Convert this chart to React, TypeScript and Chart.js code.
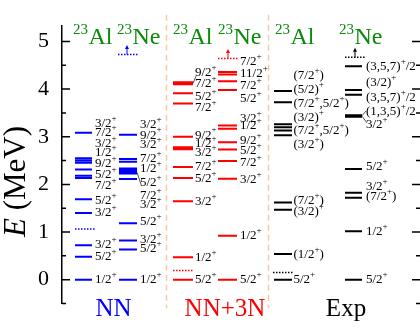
import React, { useEffect, useRef } from "react";
import { Chart, registerables } from "chart.js";
Chart.register(...registerables);

// ---------- data (MeV) ----------
// NN, 23Al
const nnAlLevels = [3.084, 2.551, 2.499, 2.455, 2.311, 2.18, 2.132, 1.687, 1.401, 0.723, 0.483, 0];
const nnAlSpins = ["3/2+", "7/2+", "3/2+", "1/2+", "9/2+", "5/2+", "7/2+", "5/2+", "3/2+", "3/2+", "5/2+", "1/2+"];
const nnAlLabelE = [3.283, 3.084, 2.864, 2.665, 2.445, 2.206, 1.966, 1.667, 1.407, 0.729, 0.489, 0];
const nnAlThreshold = 1.062;
// NN, 23Ne
const nnNeLevels = [3.044, 2.535, 2.475, 2.335, 2.289, 2.259, 2.23, 2.112, 1.182, 0.822, 0.635, 0];
const nnNeSpins = ["3/2+", "9/2+", "3/2+", "7/2+", "1/2+", "5/2+", "7/2+", "3/2+", "5/2+", "3/2+", "5/2+", "1/2+"];
const nnNeLabelE = [3.263, 3.034, 2.834, 2.535, 2.325, 2.046, 1.766, 1.567, 1.228, 0.848, 0.649, 0];
const nnNeThreshold = 4.727;
// NN+3N, 23Al
const n3AlLevels = [4.142, 4.102, 3.912, 3.697, 2.998, 2.78, 2.739, 2.365, 2.132, 1.647, 0.469, 0];
const n3AlSpins = ["9/2+", "7/2+", "5/2+", "7/2+", "9/2+", "1/2+", "3/2+", "7/2+", "5/2+", "3/2+", "1/2+", "5/2+"];
const n3AlLabelE = [4.341, 4.122, 3.852, 3.613, 3.034, 2.864, 2.665, 2.365, 2.116, 1.637, 0.469, 0];
const n3AlThreshold = 0.19;
// NN+3N, 23Ne
const n3NeLevels = [4.361, 4.307, 4.162, 3.982, 3.234, 3.17, 2.884, 2.731, 2.491, 2.12, 0.922, 0];
const n3NeSpins = ["7/2+", "11/2+", "7/2+", "5/2+", "3/2+", "1/2+", "9/2+", "5/2+", "7/2+", "3/2+", "1/2+", "5/2+"];
const n3NeLabelE = [4.581, 4.321, 4.082, 3.802, 3.383, 3.224, 2.924, 2.705, 2.455, 2.096, 0.928, 0];
const n3NeThreshold = 4.641;
// Exp, 23Al
const exAlLevels = [3.962, 3.723, 3.263, 3.198, 3.13, 3.03, 1.621, 1.467, 0.539, 0];
const exAlSpins = ["(7/2+)", "(5/2)+", "(7/2+,5/2+)", "(3/2)+", "(7/2+,5/2+)", "(3/2+)", "(7/2+)", "(3/2)+", "(1/2+)", "5/2+"];
const exAlLabelE = [4.282, 3.982, 3.703, 3.403, 3.124, 2.844, 1.667, 1.427, 0.529, 0];
const exAlThreshold = 0.15;
// Exp, 23Ne
const exNeLevels = [4.481, 3.982, 3.882, 3.453, 3.419, 2.325, 1.826, 1.717, 1.018, 0];
const exNeSpins = ["(3,5,7)+/2", "(3/2)+", "(3,5,7)+/2", "(1,3,5)+/2", "3/2+", "5/2+", "3/2+", "(7/2+)", "1/2+", "5/2+"];
const exNeLabelE = [4.481, 4.142, 3.822, 3.523, 3.263, 2.365, 1.946, 1.747, 1.008, 0];
const exNeThreshold = 4.667;

const yTicks = [0, 1, 2, 3, 4, 5];
const groupNames = ["NN", "NN+3N", "Exp"];
const nuclei = ["Al", "Ne"];

// ---------- layout / style ----------
const FONT = '"Liberation Serif", "Times New Roman", serif';
const BLUE = "#0000ff";
const RED = "#ff0000";
const BLACK = "#000000";
const GREEN = "#0b8a0b";

type Col = {
  levels: number[]; spins: string[]; labelE: number[]; threshold: number;
  x0: number; x1: number; lx: number; d0: number; d1: number; color: string; arrow?: number;
};

const columns: Col[] = [
  { levels: nnAlLevels, spins: nnAlSpins, labelE: nnAlLabelE, threshold: nnAlThreshold, x0: 13, x1: 30, lx: 33, d0: 13, d1: 33, color: BLUE },
  { levels: nnNeLevels, spins: nnNeSpins, labelE: nnNeLabelE, threshold: nnNeThreshold, x0: 57, x1: 75, lx: 78, d0: 56, d1: 76, color: BLUE, arrow: 65 },
  { levels: n3AlLevels, spins: n3AlSpins, labelE: n3AlLabelE, threshold: n3AlThreshold, x0: 111, x1: 131, lx: 133, d0: 111, d1: 131, color: RED },
  { levels: n3NeLevels, spins: n3NeSpins, labelE: n3NeLabelE, threshold: n3NeThreshold, x0: 156, x1: 175, lx: 178, d0: 156, d1: 176, color: RED, arrow: 166 },
  { levels: exAlLevels, spins: exAlSpins, labelE: exAlLabelE, threshold: exAlThreshold, x0: 212, x1: 230, lx: 231.5, d0: 211, d1: 231, color: BLACK },
  { levels: exNeLevels, spins: exNeSpins, labelE: exNeLabelE, threshold: exNeThreshold, x0: 283, x1: 300, lx: 304, d0: 283, d1: 303, color: BLACK, arrow: 293 },
];

const titleX = [[11, 55], [111, 156], [213, 277]];
const titleColors = [GREEN, GREEN, GREEN];
const groupCenters = [51.5, 163, 284];
const groupColors = [BLUE, RED, BLACK];
const separators = [104, 206];
const connectors: [number, number, number, number][] = [
  [75, 2.255, 79, 2.0],
  [131, 4.12, 134, 4.27],
  [300, 3.44, 304, 3.54],
  [300, 3.43, 305, 3.29],
];

function segs(levels: number[], x0: number, x1: number) {
  const d: any[] = [];
  levels.forEach((e) => {
    d.push({ x: x0, y: e });
    d.push({ x: x1, y: e });
    d.push({ x: x1, y: null });
  });
  return d;
}

function drawSpin(ctx: CanvasRenderingContext2D, text: string, x: number, y: number) {
  let cx = x;
  const parts = text.split(/(\+)/);
  ctx.textBaseline = "middle";
  ctx.textAlign = "left";
  for (const p of parts) {
    if (!p) continue;
    if (p === "+") {
      ctx.font = `9px ${FONT}`;
      ctx.fillText("+", cx, y - 5);
      cx += ctx.measureText("+").width;
    } else {
      ctx.font = `13px ${FONT}`;
      ctx.fillText(p, cx, y);
      cx += ctx.measureText(p).width;
    }
  }
}

const levelPlugin = {
  id: "levelScheme",
  beforeDatasetsDraw(chart: any) {
    const ctx: CanvasRenderingContext2D = chart.ctx;
    const xs = chart.scales.x, ys = chart.scales.y;
    ctx.save();
    ctx.strokeStyle = "#f8c9a2";
    ctx.lineWidth = 1.5;
    ctx.setLineDash([6, 4]);
    separators.forEach((sx) => {
      const px = Math.round(xs.getPixelForValue(sx)) + 0.5;
      ctx.beginPath();
      ctx.moveTo(px, ys.getPixelForValue(5.56));
      ctx.lineTo(px, ys.getPixelForValue(-0.6));
      ctx.stroke();
    });
    ctx.restore();
  },
  afterDraw(chart: any) {
    const ctx: CanvasRenderingContext2D = chart.ctx;
    const xs = chart.scales.x, ys = chart.scales.y;
    const area = chart.chartArea;
    ctx.save();
    // inward ticks, left and right
    ctx.strokeStyle = "#000";
    ctx.lineWidth = 1.5;
    for (let v = -0.5; v <= 5.01; v += 0.5) {
      const py = ys.getPixelForValue(v);
      const len = Number.isInteger(v) ? 8 : 4;
      ctx.beginPath();
      ctx.moveTo(area.left, py);
      ctx.lineTo(area.left + len, py);
      ctx.moveTo(420, py);
      ctx.lineTo(420 - len, py);
      ctx.stroke();
    }
    // axis title
    ctx.save();
    ctx.translate(17, ys.getPixelForValue(2.06));
    ctx.rotate(-Math.PI / 2);
    ctx.fillStyle = "#000";
    ctx.textBaseline = "middle";
    ctx.font = `italic 31px ${FONT}`;
    const eW = ctx.measureText("E").width;
    ctx.font = `31px ${FONT}`;
    const rest = " (MeV)";
    const rW = ctx.measureText(rest).width;
    const start = -(eW + rW) / 2;
    ctx.font = `italic 31px ${FONT}`;
    ctx.textAlign = "left";
    ctx.fillText("E", start, 0);
    ctx.font = `31px ${FONT}`;
    ctx.fillText(rest, start + eW, 0);
    ctx.restore();

    // nuclide titles
    ctx.textBaseline = "alphabetic";
    ctx.textAlign = "left";
    titleX.forEach((pair, gi) => {
      pair.forEach((tx, ni) => {
        let cx = xs.getPixelForValue(tx);
        const by = ys.getPixelForValue(4.94);
        ctx.fillStyle = titleColors[gi];
        ctx.font = `15px ${FONT}`;
        ctx.fillText("23", cx, by - 10);
        cx += ctx.measureText("23").width + 0.5;
        ctx.font = `24px ${FONT}`;
        ctx.fillText(nuclei[ni], cx, by);
      });
    });

    // group names
    ctx.textAlign = "center";
    ctx.font = `25px ${FONT}`;
    groupNames.forEach((g, i) => {
      ctx.fillStyle = groupColors[i];
      ctx.fillText(g, xs.getPixelForValue(groupCenters[i]), ys.getPixelForValue(-0.768));
    });

    // level labels
    ctx.fillStyle = "#000";
    columns.forEach((c) => {
      c.spins.forEach((s, i) => {
        drawSpin(ctx, s, xs.getPixelForValue(c.lx), ys.getPixelForValue(c.labelE[i]));
      });
    });

    // connectors
    ctx.strokeStyle = "#222";
    ctx.lineWidth = 0.8;
    connectors.forEach(([a, b, c, d]) => {
      ctx.beginPath();
      ctx.moveTo(xs.getPixelForValue(a), ys.getPixelForValue(b));
      ctx.lineTo(xs.getPixelForValue(c), ys.getPixelForValue(d));
      ctx.stroke();
    });

    // arrows above thresholds
    columns.forEach((c) => {
      if (c.arrow === undefined) return;
      const px = xs.getPixelForValue(c.arrow);
      const y0 = ys.getPixelForValue(c.threshold);
      const y1 = ys.getPixelForValue(c.threshold + 0.2);
      ctx.strokeStyle = c.color;
      ctx.fillStyle = c.color;
      ctx.lineWidth = 1;
      ctx.beginPath();
      ctx.moveTo(px, y0);
      ctx.lineTo(px, y1 + 3);
      ctx.stroke();
      ctx.beginPath();
      ctx.moveTo(px, y1);
      ctx.lineTo(px - 2, y1 + 4);
      ctx.lineTo(px + 2, y1 + 4);
      ctx.closePath();
      ctx.fill();
    });
    ctx.restore();
  },
};

export default function App() {
  const ref = useRef<HTMLCanvasElement>(null);
  useEffect(() => {
    const datasets: any[] = [];
    columns.forEach((c) => {
      datasets.push({
        data: segs(c.levels, c.x0, c.x1),
        borderColor: c.color,
        borderWidth: 2,
        pointRadius: 0,
        spanGaps: false,
        tension: 0,
        borderCapStyle: "butt",
      });
      datasets.push({
        data: segs([c.threshold], c.d0, c.d1),
        borderColor: c.color,
        borderWidth: 1.5,
        borderDash: [1.5, 1.5],
        pointRadius: 0,
        spanGaps: false,
        tension: 0,
      });
    });
    const chart = new Chart(ref.current!, {
      type: "line",
      data: { datasets },
      options: {
        animation: false,
        responsive: false,
        devicePixelRatio: 1,
        layout: { padding: { top: 12, bottom: 26.5, left: 0, right: 1 } },
        plugins: { legend: { display: false }, tooltip: { enabled: false } },
        scales: {
          x: { type: "linear", min: 0, max: 357, display: false },
          y: {
            type: "linear",
            min: -0.5,
            max: 5.32,
            position: "left",
            afterFit: (s: any) => { s.width = 62; },
            afterBuildTicks: (s: any) => { s.ticks = yTicks.map((v) => ({ value: v })); },
            ticks: {
              font: { family: FONT, size: 22 },
              color: "#000",
              padding: 13,
              callback: (v: any) => String(v),
            },
            grid: { drawOnChartArea: false, drawTicks: false },
            border: { display: true, color: "#000", width: 1.5 },
          },
        },
      },
      plugins: [levelPlugin],
    } as any);
    return () => chart.destroy();
  }, []);
  return (
    <div style={{ position: "fixed", left: 0, top: 0, width: 420, height: 330, background: "#fff" }}>
      <canvas ref={ref} width={420} height={330} style={{ width: 420, height: 330, display: "block" }} />
    </div>
  );
}
